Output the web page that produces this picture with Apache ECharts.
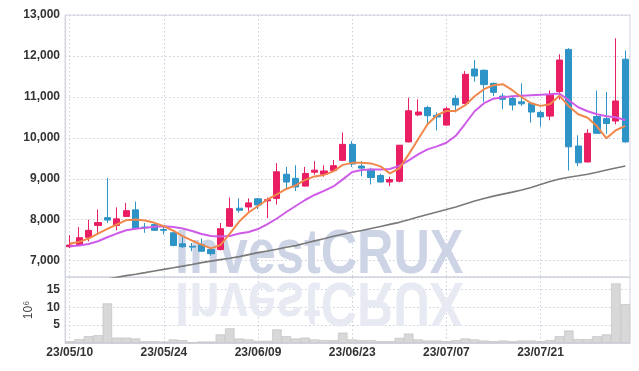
<!DOCTYPE html>
<html>
<head>
<meta charset="utf-8">
<script src="https://cdn.jsdelivr.net/npm/echarts@6/dist/echarts.min.js"></script>
<style>
html,body{margin:0;padding:0;background:#fff;}
#chart{width:639px;height:371px;}
</style>
</head>
<body>
<div id="chart"></div>
<script>
const dates = ['23/05/10','23/05/11','23/05/12','23/05/15','23/05/16','23/05/17','23/05/18','23/05/19','23/05/22','23/05/23',
'23/05/24','23/05/25','23/05/26','23/05/30','23/05/31','23/06/01','23/06/02','23/06/05','23/06/07','23/06/08',
'23/06/09','23/06/12','23/06/13','23/06/14','23/06/15','23/06/16','23/06/19','23/06/20','23/06/21','23/06/22',
'23/06/23','23/06/26','23/06/27','23/06/28','23/06/29','23/06/30','23/07/03','23/07/04','23/07/05','23/07/06',
'23/07/07','23/07/10','23/07/11','23/07/12','23/07/13','23/07/14','23/07/17','23/07/18','23/07/19','23/07/20',
'23/07/21','23/07/24','23/07/25','23/07/26','23/07/27','23/07/28','23/07/31','23/08/01','23/08/02','23/08/03'];

const opens = [7340,7370,7570,7860,8050,7860,8080,8240,7820,7880,7760,7680,7410,7350,7390,7270,7270,7840,8280,8310,
8510,8460,8520,9110,9010,8820,9160,9110,9200,9450,9840,9310,9230,9080,8920,8940,9900,10560,10740,10550,
10310,10960,10840,11680,11650,11330,11020,10960,10880,10840,10620,10530,11130,12160,9800,9410,10520,10470,10410,11920];
const closes = [7380,7560,7740,7930,7990,8020,8220,7790,7800,7740,7740,7370,7340,7330,7230,7170,7780,8270,8230,8410,
8360,8490,9170,8920,8800,9130,9210,9190,9320,9840,9360,9260,9030,8920,8980,9820,10660,10630,10540,10510,
10710,10800,11550,11510,11300,11110,10940,10800,10830,10630,10510,11060,11900,9780,9390,10110,10110,10350,10900,9900];
const lows = [7310,7360,7470,7680,7920,7740,8070,7760,7680,7740,7640,7350,7310,7230,7220,7120,7250,7830,8170,8200,
8260,8040,8370,8740,8700,8810,9100,9050,9170,9430,9290,9060,8860,8910,8820,8910,9890,10530,10330,10180,
10300,10620,10830,11370,10880,11020,10700,10670,10780,10370,10270,10430,10930,9200,9310,9400,10100,10100,10330,9880];
const highs = [7620,7820,8000,8250,9020,8300,8410,8440,7920,7900,7860,7700,7600,7430,7540,7310,7920,8540,8520,8520,
8530,8540,9380,9290,9330,9290,9430,9330,9460,10130,9920,9430,9270,9120,9050,9820,10980,10940,10780,10620,
10760,11040,11630,11900,11670,11350,11090,11020,11330,10850,10670,11160,12040,12190,10060,10210,11150,11120,12430,12130];

const ma5 = [7416,7457,7539,7661,7776,7882,7988,8004,7980,7923,7841,7730,7600,7490,7390,7300,7380,7661,7955,8175,
8334,8494,8616,8751,8837,8971,9057,9094,9179,9339,9388,9392,9375,9302,9131,9253,9596,9963,10331,10551,
10657,10657,10796,11016,11188,11286,11310,11163,10992,10845,10780,10820,11029,10772,10576,10490,10282,9988,10184,10290];
const ma20 = [7350,7367,7408,7473,7571,7661,7742,7776,7800,7825,7841,7820,7784,7722,7649,7600,7588,7600,7661,7698,
7771,7894,8029,8188,8334,8481,8604,8702,8812,8984,9167,9216,9228,9228,9240,9314,9449,9596,9718,9792,
9878,10049,10343,10649,10845,10955,10992,11016,11029,11041,11053,11065,11082,10918,10747,10649,10576,10527,10502,10429];
const ma60 = [6388,6424,6461,6510,6552,6591,6633,6669,6706,6747,6787,6824,6865,6907,6951,6988,7024,7056,7098,7147,
7196,7233,7277,7326,7367,7424,7482,7534,7595,7644,7691,7735,7784,7833,7886,7935,7999,8065,8126,8187,
8249,8310,8383,8457,8518,8575,8624,8673,8726,8788,8861,8935,8996,9038,9074,9111,9160,9212,9261,9310];

const volumes = [0.5,1.07,1.9,2.2,11.1,1.5,1.5,1.25,0.5,0.5,0.4,1.0,0.8,0.2,0.4,0.4,2.4,4.1,1.25,1.0,
0.6,0.6,3.8,1.9,1.25,1.5,1.0,0.8,0.8,2.9,1.0,0.8,0.8,0.5,0.5,1.45,2.65,1.0,0.7,0.7,
0.5,0.8,1.25,1.0,0.7,0.5,0.7,0.5,0.7,0.7,0.5,0.8,1.9,3.5,1.1,1.1,1.9,2.4,16.7,10.9];

const priceTicks = [7000,8000,9000,10000,11000,12000,13000];
const volumeTicks = [5,10,15];

const candleData = opens.map((o, i) => [o, closes[i], lows[i], highs[i]]);

const FONT = '"Liberation Sans", Arial, sans-serif';
const gridLineStyle = {color: '#c9ccd9', type: [1.5, 2.5], width: 1};
const labelStyle = {color: '#333', fontSize: 12, fontWeight: 'bold', fontFamily: FONT};

const chart = echarts.init(document.getElementById('chart'), null, {renderer: 'canvas'});
chart.setOption({
  animation: false,
  backgroundColor: '#fff',
  grid: [
    {left: 65, top: 15, width: 565, height: 262, show: true, borderColor: '#d4d6e0', borderWidth: 1},
    {left: 65, top: 277, width: 565, height: 66, show: true, borderColor: '#d4d6e0', borderWidth: 1}
  ],
  xAxis: [
    {type: 'category', gridIndex: 0, data: dates, boundaryGap: true,
     axisLine: {show: false}, axisTick: {show: false}, axisLabel: {show: false},
     splitLine: {show: true, interval: 9, alignWithLabel: true, lineStyle: gridLineStyle}},
    {type: 'category', gridIndex: 1, data: dates, boundaryGap: true,
     axisLine: {show: true, lineStyle: {color: '#d4d6e0'}}, axisTick: {show: false},
     axisLabel: Object.assign({interval: 9, margin: 4}, labelStyle),
     splitLine: {show: true, interval: 9, alignWithLabel: true, lineStyle: gridLineStyle}}
  ],
  yAxis: [
    {type: 'value', gridIndex: 0, min: 6600, max: 13000, scale: true,
     axisLine: {show: true, lineStyle: {color: '#d4d6e0'}}, axisTick: {show: false},
     axisLabel: Object.assign({margin: 5, formatter: v => priceTicks.indexOf(v) >= 0 ? v.toLocaleString('en-US') : ''}, labelStyle),
     splitLine: {show: true, lineStyle: gridLineStyle}},
    {type: 'value', gridIndex: 1, min: 0, max: 18.5, interval: 5,
     name: '10\u2076', nameLocation: 'middle', nameRotate: 90, nameGap: 30,
     nameTextStyle: {color: '#444', fontSize: 12, fontFamily: FONT},
     axisLine: {show: true, lineStyle: {color: '#d4d6e0'}}, axisTick: {show: false},
     axisLabel: Object.assign({margin: 5, formatter: v => volumeTicks.indexOf(v) >= 0 ? String(v) : ''}, labelStyle),
     splitLine: {show: true, lineStyle: gridLineStyle}}
  ],
  graphic: [
    {type: 'text', x: 175, y: 277, scaleX: 0.8, z: 1, silent: true,
     style: {text: 'InvestCRUX', x: 0, y: 9.7, verticalAlign: 'bottom', font: 'bold 63px "Liberation Sans", Arial, sans-serif', fill: '#cdd4e6'}},
    {type: 'text', x: 175, y: 279, scaleX: 0.8, scaleY: -1, z: 1, silent: true,
     style: {text: 'InvestCRUX', x: 0, y: 9.7, verticalAlign: 'bottom', font: 'bold 63px "Liberation Sans", Arial, sans-serif', fill: '#e7eaf2'}}
  ],
  series: [
    {type: 'candlestick', xAxisIndex: 0, yAxisIndex: 0, data: candleData, barWidth: '70%',
     itemStyle: {color: '#E91E63', color0: '#2E93C6', borderColor: '#E91E63', borderColor0: '#2E93C6', borderWidth: 1}},
    {type: 'line', xAxisIndex: 0, yAxisIndex: 0, data: ma60, showSymbol: false, smooth: false,
     lineStyle: {color: '#7a7a7a', width: 1.6}, z: 3},
    {type: 'line', xAxisIndex: 0, yAxisIndex: 0, data: ma20, showSymbol: false,
     lineStyle: {color: '#CF5CE8', width: 2}, z: 3},
    {type: 'line', xAxisIndex: 0, yAxisIndex: 0, data: ma5, showSymbol: false,
     lineStyle: {color: '#F0884C', width: 2}, z: 3},
    {type: 'bar', xAxisIndex: 1, yAxisIndex: 1, data: volumes, barCategoryGap: '0%',
     itemStyle: {color: '#d8d8d8', borderColor: '#bdbdbd', borderWidth: 0.6}}
  ]
});
</script>
</body>
</html>
